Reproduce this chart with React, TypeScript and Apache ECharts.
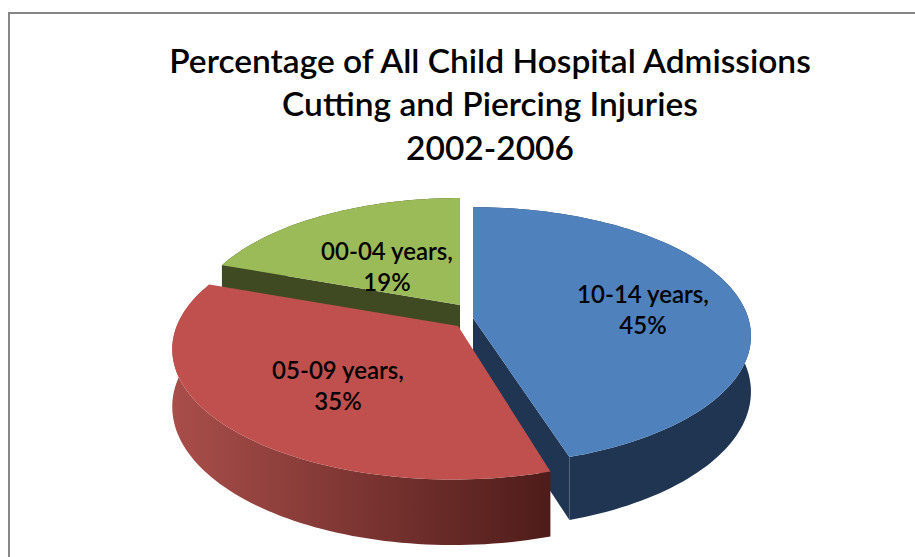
import React, { useEffect, useRef } from "react";
import * as echarts from "echarts";

const categories = ["10-14 years", "05-09 years", "00-04 years"];
const values = [45, 35.4, 19.4];
const titleLines = ["Percentage of All Child Hospital Admissions", "Cutting and Piercing Injuries", "2002-2006"];

const topColors = ["#4F81BD", "#C0504D", "#9BBB59"];
const PERSPECTIVE = 0.14;
const RX = 278;
const RY = 127.7;
const FRONT_K = 1.153;

type Look = {
  cx: number; cy: number; ax: number; ay: number; scale: number; depth: number;
  order: number; lx: number; ly: number; extra: number;
};
const looks: Look[] = [
  { cx: 473, cy: 318, ax: 473, ay: 318, scale: 0.99, depth: 63, order: 2, lx: 643, ly: 309, extra: 0 },
  { cx: 453, cy: 331, ax: 458, ay: 326, scale: 1, depth: 65, order: 3, lx: 338, ly: 385, extra: 2.5 },
  { cx: 460, cy: 305, ax: 460, ay: 305, scale: 0.955, depth: 62, order: 1, lx: 387, ly: 266, extra: 0 },
];

function kOf(deg: number) {
  return 1 / (1 + PERSPECTIVE * Math.cos((deg * Math.PI) / 180));
}

function project(l: Look, deg: number): [number, number] {
  const t = (deg * Math.PI) / 180;
  const u = Math.sin(t);
  const v = -Math.cos(t);
  const k = kOf(deg);
  return [l.cx + l.scale * RX * u * k, l.cy + l.scale * RY * v * k];
}

function sweepAngles(from: number, to: number): number[] {
  const n = Math.max(8, Math.ceil(Math.abs(to - from) / 1.5));
  const out: number[] = [];
  for (let i = 0; i <= n; i++) out.push(from + ((to - from) * i) / n);
  return out;
}

function wallFill(i: number) {
  if (i === 0) return "#1F3552";
  if (i === 2) return "#3F4A22";
  return new echarts.graphic.LinearGradient(0, 0, 1, 0, [
    { offset: 0, color: "#A94E4A" },
    { offset: 1, color: "#4E1C1A" },
  ]);
}

function renderItem(params: any, api: any) {
  const i = params.dataIndex;
  const total = values.reduce((a, b) => a + b, 0);
  let start = 0;
  for (let j = 0; j < i; j++) start += (values[j] / total) * 360;
  const sweep = (api.value(0) / total) * 360;
  const l = looks[i];
  const end = start + sweep + l.extra;
  const angles = sweepAngles(start, end);
  const edge = angles.map((a) => project(l, a));
  const lower = angles.map((a) => {
    const p = project(l, a);
    return [p[0], p[1] + (l.depth * kOf(a)) / FRONT_K] as [number, number];
  });
  const apex: [number, number] = [l.ax, l.ay];
  const base = l.order * 10;
  const children: any[] = [];
  children.push({
    type: "polygon",
    z2: base,
    shape: { points: [...edge, ...lower.slice().reverse()] },
    style: { fill: wallFill(i) },
  });
  const cutAngle = i === 0 ? end : i === 2 ? start : null;
  if (cutAngle !== null) {
    const c = project(l, cutAngle);
    const d = (l.depth * kOf(cutAngle)) / FRONT_K;
    children.push({
      type: "polygon",
      z2: base + 1,
      shape: { points: [apex, c, [c[0], c[1] + d], [apex[0], apex[1] + l.depth * 0.88]] },
      style: { fill: wallFill(i) },
    });
  }
  children.push({
    type: "polygon",
    z2: base + 2,
    shape: { points: [apex, ...edge] },
    style: { fill: topColors[i] },
  });
  children.push({
    type: "text",
    z2: 100,
    style: {
      x: l.lx,
      y: l.ly,
      text: `${categories[i]},\n${Math.round(api.value(0))}%`,
      align: "center",
      verticalAlign: "middle",
      fill: "#000",
      font: '600 24px Lato, "Open Sans", sans-serif',
      lineHeight: 31,
    },
  });
  return { type: "group", children };
}

export default function App() {
  const ref = useRef<HTMLDivElement>(null);
  useEffect(() => {
    const chart = echarts.init(ref.current!, undefined, { renderer: "svg" });
    chart.setOption({
      animation: false,
      backgroundColor: "#fff",
      title: {
        text: titleLines.join("\n"),
        left: 485,
        top: 33,
        textAlign: "center",
        textStyle: {
          fontFamily: 'Lato, "Open Sans", sans-serif',
          fontSize: 33.5,
          fontWeight: 600,
          color: "#000",
          lineHeight: 43.5,
        },
      },
      graphic: [
        {
          type: "rect",
          shape: { x: 9, y: 13, width: 1200, height: 800 },
          style: { fill: "none", stroke: "#868686", lineWidth: 2 },
          z: 0,
        },
      ],
      series: [
        {
          type: "custom",
          coordinateSystem: "none",
          renderItem,
          data: values.map((v, i) => ({ name: categories[i], value: [v] })),
        },
      ],
    });
    return () => chart.dispose();
  }, []);
  return <div ref={ref} style={{ position: "fixed", left: 0, top: 0, width: 915, height: 557 }} />;
}
